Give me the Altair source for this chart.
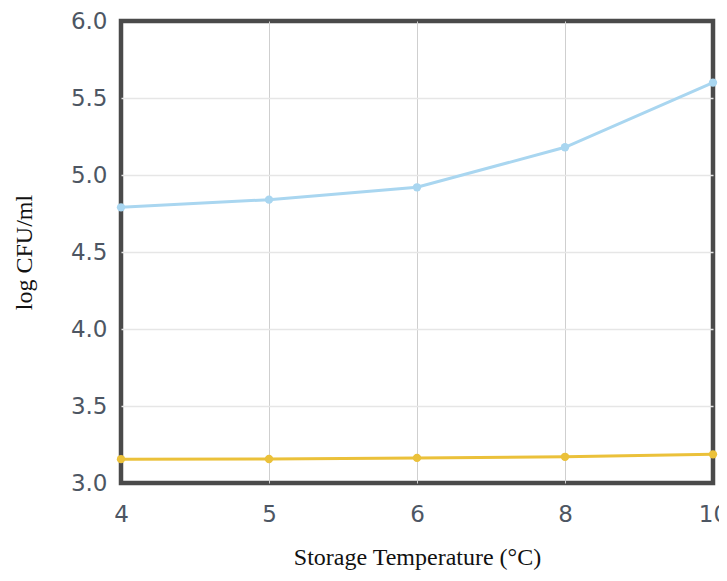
import altair as alt
import pandas as pd

temps = [4, 5, 6, 8, 10]
series_a = [4.79, 4.84, 4.92, 5.18, 5.60]
series_b = [3.155, 3.156, 3.163, 3.170, 3.186]
series_names = ["A", "B"]
colors = ["#a9d6f0", "#ebc13a"]

rows = []
for t, a, b in zip(temps, series_a, series_b):
    rows.append({"temp": t, "val": a, "s": series_names[0]})
    rows.append({"temp": t, "val": b, "s": series_names[1]})
df = pd.DataFrame(rows)

x_grid = {"condition": {"test": "datum.value == 4 || datum.value == 10", "value": "transparent"},
          "value": "#cfcfcf"}
y_grid = {"condition": {"test": "datum.value <= 3.0 || datum.value >= 6.0", "value": "transparent"},
          "value": "#e6e6e6"}

x = alt.X("temp:O", scale=alt.Scale(type="point", padding=0),
          axis=alt.Axis(title="Storage Temperature (°C)", labelAngle=0,
                        labelFont="DejaVu Sans", labelFontSize=23, labelColor="#4d5663",
                        labelPadding=20, titleFont="Liberation Serif", titleFontSize=24,
                        titleFontWeight="normal", titleColor="#111", titlePadding=19,
                        ticks=False, domain=False, grid=True, gridColor=x_grid,
                        gridWidth=1))
y = alt.Y("val:Q", scale=alt.Scale(domain=[3.0, 6.0], nice=False, zero=False),
          axis=alt.Axis(title="log CFU/ml", values=[3.0, 3.5, 4.0, 4.5, 5.0, 5.5, 6.0],
                        format=".1f", labelFont="DejaVu Sans", labelFontSize=23,
                        labelColor="#4d5663", labelPadding=14,
                        titleFont="Liberation Serif", titleFontSize=24,
                        titleFontWeight="normal", titleColor="#111", titlePadding=34,
                        ticks=False, domain=False, grid=True, gridColor=y_grid,
                        gridWidth=1.5))
color = alt.Color("s:N", scale=alt.Scale(domain=series_names, range=colors), legend=None)

base = alt.Chart(df).encode(x=x, y=y, color=color)
lines = base.mark_line(strokeWidth=3)
pts = base.mark_circle(size=70, opacity=1)

chart = (lines + pts).properties(
    width=592, height=462,
    background="white",
    autosize=alt.AutoSizeParams(type="none"),
    padding={"left": 113, "top": 13, "right": 6, "bottom": 90},
).configure_view(stroke="#4a4a4a", strokeWidth=4.5)

chart.save("out.html", embed_options={"renderer": "svg", "actions": False})
